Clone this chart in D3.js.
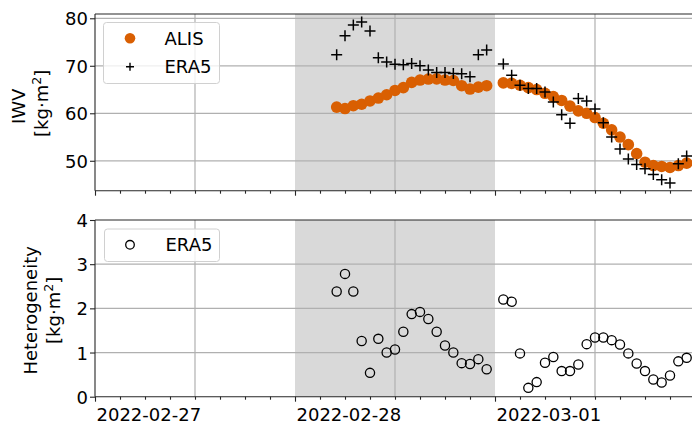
<!DOCTYPE html>
<html>
<head>
<meta charset="utf-8">
<script src="https://cdn.jsdelivr.net/npm/d3@7"></script>
<style>
  html, body { margin: 0; padding: 0; background: #fff; }
  svg { display: block; font-family: "DejaVu Sans", sans-serif; }
</style>
</head>
<body>
<svg id="chart" width="692" height="424"></svg>
<script>
// Hourly sample times, hours after 2022-02-27 00:00 UTC (no sample at 03-01 00:00)
const hours = [
  29, 30, 31, 32, 33, 34, 35, 36, 37, 38, 39, 40, 41, 42, 43, 44, 45, 46, 47,
  49, 50, 51, 52, 53, 54, 55, 56, 57, 58, 59, 60, 61, 62, 63, 64, 65, 66, 67, 68, 69, 70, 71
];

// Integrated water vapour [kg·m²]
const iwvAlis = [
  61.3, 61.0, 61.6, 61.9, 62.6, 63.2, 63.9, 64.8, 65.4, 66.5, 67.0, 67.2, 67.25, 67.0, 66.9, 65.8, 65.1, 65.5, 65.8,
  66.4, 66.3, 65.9, 65.4, 65.0, 64.2, 63.5, 62.7, 61.5, 60.5, 60.0, 59.1, 57.9, 56.5, 55.0, 53.4, 51.5, 49.7, 49.0, 48.8, 48.6, 49.0, 49.5
];
const iwvEra5 = [
  72.3, 76.3, 78.6, 79.2, 77.3, 71.7, 70.8, 70.3, 70.2, 70.5, 70.0, 69.1, 68.6, 68.6, 68.4, 68.3, 67.7, 72.3, 73.3,
  70.35, 68.0, 65.9, 65.2, 65.2, 64.5, 62.4, 59.7, 57.9, 63.1, 62.6, 60.9, 58.0, 55.0, 52.5, 50.4, 49.2, 48.3, 47.1, 46.0, 45.3, 49.4, 51.0
];

// ERA5 heterogeneity [kg·m²]
const hetEra5 = [
  2.38, 2.78, 2.38, 1.26, 0.54, 1.31, 1.00, 1.07, 1.47, 1.87, 1.92, 1.76, 1.47, 1.16, 1.00, 0.76, 0.74, 0.85, 0.62,
  2.20, 2.15, 0.98, 0.20, 0.33, 0.77, 0.90, 0.58, 0.58, 0.73, 1.19, 1.34, 1.34, 1.28, 1.18, 0.98, 0.75, 0.58, 0.39, 0.32, 0.48, 0.80, 0.88
];

const iwvTicks = [50, 60, 70, 80];
const hetTicks = [0, 1, 2, 3, 4];

// Time window and highlighted period
const tStart = new Date(Date.UTC(2022, 1, 27, 0));
const tEnd = new Date(Date.UTC(2022, 2, 2, 0));
const spanStart = new Date(Date.UTC(2022, 1, 28, 0));
const spanEnd = new Date(Date.UTC(2022, 2, 1, 0));

const ORANGE = "#d95f02";
const GRID = "#b0b0b0";
const SPINE = "#262626";
const FONT = 18;

const svg = d3.select("#chart");
const toDate = h => new Date(tStart.getTime() + h * 3600e3);
const times = hours.map(toDate);

const x = d3.scaleUtc().domain([tStart, tEnd]).range([95, 695]);

const panels = [
  { top: 14, bottom: 190.7, domain: [43.7, 80.9], ticks: iwvTicks, label: "IWV", labelX: [25, 47.5], xLabels: false },
  { top: 220, bottom: 396.7, domain: [0, 4], ticks: hetTicks, label: "Heterogeneity", labelX: [36.5, 60], xLabels: true }
];

panels.forEach(p => {
  p.y = d3.scaleLinear().domain(p.domain).range([p.bottom, p.top]);
});

const noonTicks = x.ticks(d3.utcHour.every(12)).filter(d => d.getUTCHours() === 12);
const minorTicks = x.ticks(d3.utcHour.every(3)).filter(d => d.getUTCHours() !== 0);
// daily ticks, leaving out the closing edge of the window
const dayTicks = x.ticks(d3.utcDay.every(1)).filter(d => d < tEnd);

panels.forEach((p, i) => {
  const g = svg.append("g");
  const h = p.bottom - p.top;

  // highlighted day
  g.append("rect")
    .attr("x", x(spanStart)).attr("y", p.top)
    .attr("width", x(spanEnd) - x(spanStart)).attr("height", h)
    .attr("fill", "#d9d9d9");

  // grid
  g.selectAll(".vg").data(noonTicks).join("line")
    .attr("x1", d => x(d)).attr("x2", d => x(d))
    .attr("y1", p.top).attr("y2", p.bottom)
    .attr("stroke", GRID).attr("stroke-width", 1.2);
  g.selectAll(".hg").data(p.ticks.filter(t => p.y(t) > p.top + 1 && p.y(t) < p.bottom - 1)).join("line")
    .attr("x1", 95).attr("x2", 695)
    .attr("y1", d => p.y(d)).attr("y2", d => p.y(d))
    .attr("stroke", GRID).attr("stroke-width", 1.2);

  // x axis: 3-hourly minor ticks, daily major ticks
  const gxMinor = g.append("g").attr("transform", `translate(0,${p.bottom})`)
    .call(d3.axisBottom(x).tickValues(minorTicks).tickSize(3).tickFormat(""));
  const gxMajor = g.append("g").attr("transform", `translate(0,${p.bottom})`)
    .call(d3.axisBottom(x).tickValues(dayTicks).tickSize(5)
      .tickFormat(p.xLabels ? d3.utcFormat("%Y-%m-%d") : ""));
  [gxMinor, gxMajor].forEach(ax => {
    ax.select(".domain").remove();
    ax.selectAll(".tick line").attr("stroke", SPINE).attr("stroke-width", 1.1);
  });
  gxMajor.selectAll(".tick text")
    .attr("text-anchor", "start").attr("x", 1).attr("y", 24.8).attr("dy", 0)
    .attr("font-size", FONT).attr("font-family", "DejaVu Sans").attr("fill", "#000");

  // y axis
  const gy = g.append("g").attr("transform", "translate(95,0)")
    .call(d3.axisLeft(p.y).tickValues(p.ticks).tickSize(5).tickPadding(2).tickFormat(d3.format("d")));
  gy.select(".domain").remove();
  gy.selectAll(".tick line").attr("stroke", SPINE).attr("stroke-width", 1.1);
  gy.selectAll(".tick text").attr("font-size", FONT).attr("font-family", "DejaVu Sans")
    .attr("fill", "#000").attr("dy", "0.36em");

  // spines: left, bottom, top
  g.append("line").attr("x1", 95).attr("x2", 95).attr("y1", p.top).attr("y2", p.bottom)
    .attr("stroke", SPINE).attr("stroke-width", 1.1);
  g.append("line").attr("x1", 95).attr("x2", 695).attr("y1", p.bottom).attr("y2", p.bottom)
    .attr("stroke", SPINE).attr("stroke-width", 1.1);
  g.append("line").attr("x1", 95).attr("x2", 695).attr("y1", p.top).attr("y2", p.top)
    .attr("stroke", SPINE).attr("stroke-width", 1.1);

  // y label (two lines, rotated)
  const cy = (p.top + p.bottom) / 2 + (i === 0 ? 1 : 2);
  g.append("text")
    .attr("transform", `translate(${p.labelX[0]},${cy + (i === 0 ? 3 : 0)}) rotate(-90)`)
    .attr("text-anchor", "middle").attr("font-size", FONT).text(p.label);
  const unit = g.append("text")
    .attr("transform", `translate(${p.labelX[1]},${cy}) rotate(-90)`)
    .attr("text-anchor", "middle").attr("font-size", FONT);
  unit.append("tspan").text("[kg·m");
  unit.append("tspan").attr("font-size", FONT * 0.7).attr("dy", -7).text("2");
  unit.append("tspan").attr("dy", 7).text("]");
});

// IWV panel marks
const iwvPanel = panels[0], hetPanel = panels[1];
svg.append("g").selectAll("circle").data(iwvAlis).join("circle")
  .attr("cx", (d, i) => x(times[i])).attr("cy", d => iwvPanel.y(d))
  .attr("r", 5.8).attr("fill", ORANGE);

svg.append("g").selectAll("path").data(iwvEra5).join("path")
  .attr("d", (d, i) => `M${x(times[i]) - 5.5},${iwvPanel.y(d)}h11M${x(times[i])},${iwvPanel.y(d) - 5.5}v11`)
  .attr("stroke", "#000").attr("stroke-width", 1.5).attr("fill", "none");

// Heterogeneity panel marks
svg.append("g").selectAll("circle").data(hetEra5).join("circle")
  .attr("cx", (d, i) => x(times[i])).attr("cy", d => hetPanel.y(d))
  .attr("r", 4.6).attr("fill", "none").attr("stroke", "#000").attr("stroke-width", 1.3);

// legends
function legendBox(x0, y0, w, h) {
  svg.append("rect").attr("x", x0).attr("y", y0).attr("width", w).attr("height", h)
    .attr("rx", 3).attr("fill", "#fff").attr("fill-opacity", 0.8)
    .attr("stroke", "#d0d0d0").attr("stroke-width", 1);
}
legendBox(103.5, 22.5, 116, 61);
svg.append("circle").attr("cx", 130).attr("cy", 38.3).attr("r", 5.3).attr("fill", ORANGE);
svg.append("text").attr("x", 164.5).attr("y", 44.5).attr("font-size", FONT).text("ALIS");
svg.append("path").attr("d", "M126,66.7h8M130,62.7v8").attr("stroke", "#000").attr("stroke-width", 1.4);
svg.append("text").attr("x", 164.5).attr("y", 72.5).attr("font-size", FONT).text("ERA5");

legendBox(104.5, 229, 115, 32.5);
svg.append("circle").attr("cx", 130).attr("cy", 244.8).attr("r", 4.3)
  .attr("fill", "none").attr("stroke", "#000").attr("stroke-width", 1.3);
svg.append("text").attr("x", 165.5).attr("y", 251).attr("font-size", FONT).text("ERA5");
</script>
</body>
</html>
